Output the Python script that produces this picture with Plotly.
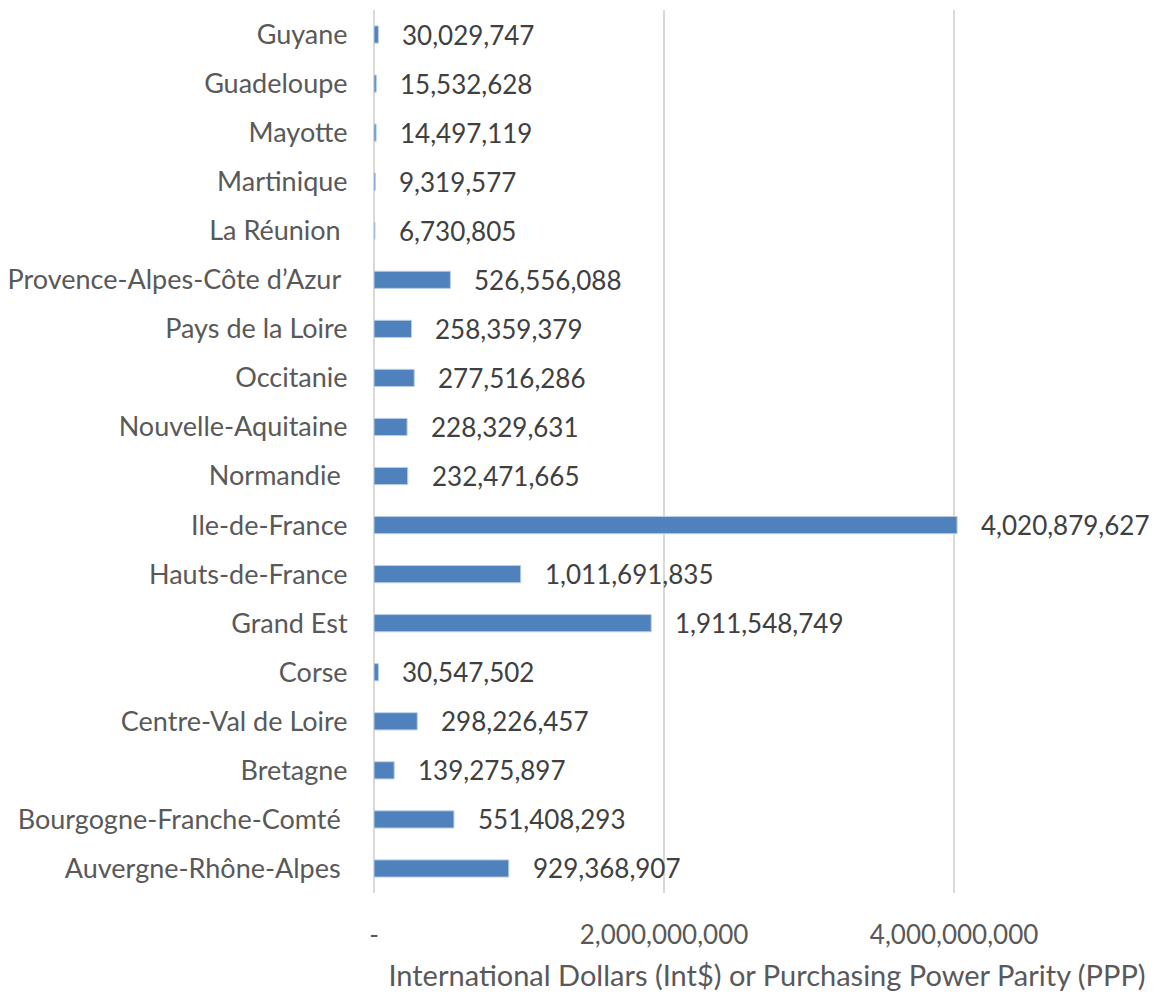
import plotly.graph_objects as go

regions = ["Auvergne-Rhône-Alpes ", "Bourgogne-Franche-Comté ", "Bretagne", "Centre-Val de Loire",
           "Corse", "Grand Est", "Hauts-de-France", "Ile-de-France", "Normandie ",
           "Nouvelle-Aquitaine", "Occitanie", "Pays de la Loire", "Provence-Alpes-Côte d’Azur ",
           "La Réunion ", "Martinique", "Mayotte", "Guadeloupe", "Guyane"]
values = [929368907, 551408293, 139275897, 298226457, 30547502, 1911548749, 1011691835,
          4020879627, 232471665, 228329631, 277516286, 258359379, 526556088,
          6730805, 9319577, 14497119, 15532628, 30029747]
tick_vals = [0, 2000000000, 4000000000]
tick_text = ["-", "2,000,000,000", "4,000,000,000"]
x_title = "International Dollars (Int$) or Purchasing Power Parity (PPP)"

FONT = "Lato"
TXT = "#595959"

fig = go.Figure(go.Bar(
    y=regions, x=values, orientation="h", width=0.35,
    marker=dict(color="#4F81BD", line=dict(color="#B9CDE5", width=1)),
    hoverinfo="x+y",
))

for r, v in zip(regions, values):
    fig.add_annotation(x=v, y=r, text=f"{v:,}", showarrow=False, xanchor="left",
                       xshift=22, font=dict(family=FONT, size=26, color="#404040"))

fig.update_layout(
    width=1172, height=996,
    margin=dict(l=374, r=12, t=10, b=103),
    paper_bgcolor="white", plot_bgcolor="white",
    showlegend=False, bargap=0.65,
    font=dict(family=FONT, color=TXT),
    xaxis=dict(range=[0, 5.42e9], tickvals=tick_vals, ticktext=tick_text,
               automargin=False,
               showgrid=True, gridcolor="#D9D9D9", gridwidth=2,
               zeroline=True, zerolinecolor="#D9D9D9", zerolinewidth=2,
               showline=False, ticks="outside", ticklen=19, tickcolor="rgba(0,0,0,0)",
               tickfont=dict(family=FONT, size=26, color=TXT),
               title=dict(text=x_title, font=dict(family=FONT, size=29, color=TXT), standoff=16)),
    yaxis=dict(categoryorder="array", categoryarray=regions, showgrid=False,
               automargin=False,
               showline=False, zeroline=False,
               ticks="outside", ticklen=20, tickcolor="rgba(0,0,0,0)",
               tickfont=dict(family=FONT, size=27, color=TXT)),
)

fig.write_html("out.html")
